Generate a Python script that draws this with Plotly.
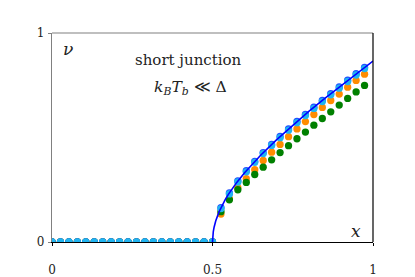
import plotly.graph_objects as go

# sample positions x = k/38, k = 0..37
x_pts = [k / 38 for k in range(38)]

# read-off values (zero below x = 0.5)
zeros = [0.0] * 20
blue_vals = zeros + [0.164, 0.235, 0.292, 0.341, 0.386, 0.428, 0.467, 0.505, 0.541,
                     0.577, 0.611, 0.645, 0.678, 0.710, 0.742, 0.774, 0.805, 0.836]
cyan_vals = zeros + [0.160, 0.230, 0.287, 0.336, 0.381, 0.423, 0.462, 0.499, 0.535,
                     0.571, 0.605, 0.639, 0.672, 0.704, 0.736, 0.768, 0.799, 0.830]
orange_vals = zeros + [0.134, 0.207, 0.260, 0.303, 0.346, 0.390, 0.430, 0.467, 0.504,
                       0.541, 0.576, 0.610, 0.644, 0.677, 0.708, 0.741, 0.773, 0.803]
green_vals = zeros + [0.145, 0.202, 0.250, 0.285, 0.323, 0.358, 0.393, 0.428, 0.461,
                      0.494, 0.526, 0.559, 0.591, 0.623, 0.655, 0.687, 0.718, 0.749]

# theory curve
curve_x = [0.5, 0.5001, 0.501, 0.5025, 0.505, 0.51, 0.52, 0.53, 0.54, 0.55, 0.575,
           0.6, 0.65, 0.7, 0.75, 0.8, 0.85, 0.9, 0.95, 1.0]
curve_y = [0.0, 0.0100, 0.0316, 0.0501, 0.0709, 0.1005, 0.1428, 0.1758, 0.2040, 0.2291,
           0.2839, 0.3317, 0.4153, 0.4899, 0.5590, 0.6245, 0.6874, 0.7483, 0.8078, 0.8660]

x_ticks = [0, 0.5, 1]
x_ticklabels = ["0", "0.5", "1"]
y_ticks = [0, 1]
y_ticklabels = ["0", "1"]

SERIF = "DejaVu Serif"
TXT = "#222222"

fig = go.Figure()
fig.add_trace(go.Scatter(x=x_pts, y=orange_vals, mode="markers",
                         marker=dict(color="#ff8c00", size=7.3, line=dict(width=0))))
fig.add_trace(go.Scatter(x=x_pts, y=green_vals, mode="markers",
                         marker=dict(color="#008000", size=7.3, line=dict(width=0))))
fig.add_trace(go.Scatter(x=x_pts, y=blue_vals, mode="markers",
                         marker=dict(color="#2050ff", size=7.3, line=dict(width=0))))
fig.add_trace(go.Scatter(x=x_pts, y=cyan_vals, mode="markers",
                         marker=dict(color="#20b4f0", size=7.3, line=dict(width=0))))
fig.add_trace(go.Scatter(x=curve_x, y=curve_y, mode="lines",
                         line=dict(color="#0000ff", width=1.6)))

# the page body has an 8px margin, so the figure is made 8px smaller
fig.update_layout(
    width=407, height=269,
    margin=dict(l=44, r=42, t=25, b=35, autoexpand=False),
    paper_bgcolor="white", plot_bgcolor="white",
    showlegend=False,
    font=dict(family=SERIF, color=TXT),
    xaxis=dict(range=[0, 1], tickvals=x_ticks, ticktext=x_ticklabels,
               showgrid=False, zeroline=False, showline=True, linecolor="black",
               linewidth=1.2, ticks="outside", ticklen=3, tickcolor="black",
               automargin=False,
               ticklabelstandoff=13, tickfont=dict(size=12, family=SERIF, color=TXT)),
    yaxis=dict(range=[0, 1], tickvals=y_ticks, ticktext=y_ticklabels,
               showgrid=False, zeroline=False, showline=True, linecolor="#808080",
               linewidth=1.2, ticks="outside", ticklen=3, tickcolor="#808080",
               automargin=False,
               ticklabelstandoff=1, tickfont=dict(size=12, family=SERIF, color=TXT)),
    shapes=[
        dict(type="line", xref="paper", yref="paper", x0=0, x1=1, y0=1, y1=1,
             line=dict(color="#808080", width=1.2)),
        dict(type="line", xref="paper", yref="paper", x0=1, x1=1, y0=0, y1=1,
             line=dict(color="black", width=1.2)),
    ],
    annotations=[
        dict(x=0.05, y=0.925, xref="x", yref="y", text="<i>ν</i>", showarrow=False,
             font=dict(size=17, family=SERIF, color=TXT)),
        dict(x=0.425, y=0.87, xref="x", yref="y", text="short junction", showarrow=False,
             font=dict(size=15, family=SERIF, color=TXT)),
        dict(x=0.43, y=0.735, xref="x", yref="y",
             text="<i>k</i><sub><i>B</i></sub><i>T</i><sub><i>b</i></sub> ≪ Δ",
             showarrow=False, font=dict(size=15.5, family=SERIF, color=TXT)),
        dict(x=0.946, y=0.055, xref="x", yref="y", text="<i>x</i>", showarrow=False,
             font=dict(size=17, family=SERIF, color=TXT)),
    ],
)

fig.write_html("out.html")
